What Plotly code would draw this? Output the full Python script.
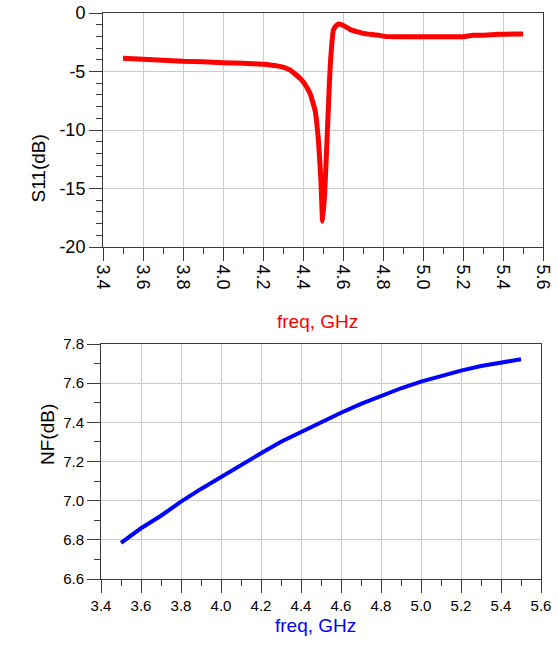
import plotly.graph_objects as go

# S11 data (freq GHz, dB)
s11_freq = [3.5, 3.6, 3.7, 3.8, 3.9, 4.0, 4.1, 4.2, 4.235, 4.3, 4.335, 4.385, 4.41, 4.435,
            4.46, 4.477, 4.49, 4.498, 4.508, 4.518, 4.532, 4.538, 4.552, 4.565, 4.58,
            4.6, 4.635, 4.67, 4.70, 4.77, 4.82, 4.9, 5.0, 5.1, 5.2, 5.25, 5.3, 5.385, 5.45, 5.5]
s11_db = [-3.87, -3.96, -4.03, -4.13, -4.17, -4.25, -4.30, -4.39, -4.44, -4.62, -4.87, -5.58, -6.1, -6.87,
          -8.29, -10.85, -14.5, -17.8, -15.5, -11.7, -6.0, -4.0, -1.45, -1.1, -0.94,
          -1.05, -1.4, -1.6, -1.74, -1.88, -2.02, -2.03, -2.02, -2.02, -2.02, -1.91, -1.9, -1.82, -1.8, -1.79]

# NF data (freq GHz, dB)
nf_freq = [3.5, 3.6, 3.7, 3.8, 3.9, 4.0, 4.1, 4.2, 4.3, 4.4, 4.5, 4.6, 4.7, 4.8, 4.9,
           5.0, 5.1, 5.2, 5.3, 5.4, 5.5]
nf_db = [6.785, 6.859, 6.923, 6.995, 7.06, 7.122, 7.182, 7.242, 7.301, 7.352, 7.403, 7.449,
         7.494, 7.535, 7.574, 7.608, 7.638, 7.664, 7.688, 7.707, 7.722]

x_ticks = [3.4, 3.6, 3.8, 4.0, 4.2, 4.4, 4.6, 4.8, 5.0, 5.2, 5.4, 5.6]
x_ticktext = ["%.1f" % v for v in x_ticks]
s11_ticks = [0, -5, -10, -15, -20]
s11_ticktext = ["0", "-5", "-10", "-15", "-20"]
nf_ticks = [6.6, 6.8, 7.0, 7.2, 7.4, 7.6, 7.8]
nf_ticktext = ["%.1f" % v for v in nf_ticks]

FONT = "Liberation Sans, Arial, sans-serif"
W, H = 559, 650
AX = "#3a3a3a"
GRID = "#cccccc"

fig = go.Figure()
fig.add_trace(go.Scatter(x=s11_freq, y=s11_db, mode="lines",
                         line=dict(color="#ff0000", width=5, shape="spline", smoothing=0.4),
                         xaxis="x", yaxis="y", showlegend=False))
fig.add_trace(go.Scatter(x=nf_freq, y=nf_db, mode="lines",
                         line=dict(color="#0000ff", width=4),
                         xaxis="x2", yaxis="y2", showlegend=False))

common = dict(showline=True, linecolor=AX, linewidth=1, mirror=True,
              showgrid=True, gridcolor=GRID, gridwidth=1, zeroline=False,
              ticks="outside", tickcolor=AX, ticklen=13, tickwidth=1,
              automargin=False)

fig.update_layout(
    width=W, height=H, autosize=False,
    margin=dict(l=0, r=0, t=0, b=0, pad=0, autoexpand=False),
    paper_bgcolor="white", plot_bgcolor="white",
    font=dict(family=FONT, color="#000000"),
    xaxis=dict(domain=[103 / W, 543 / W], range=[3.4, 5.6], anchor="y",
               tickvals=x_ticks, ticktext=x_ticktext, tickangle=90,
               tickfont=dict(size=18),
               minor=dict(dtick=0.1, tick0=3.4, ticks="outside", ticklen=6, tickcolor=AX, showgrid=False),
               **common),
    yaxis=dict(domain=[1 - 247 / H, 1 - 13 / H], range=[-20, 0], anchor="x",
               tickvals=s11_ticks, ticktext=s11_ticktext, tickfont=dict(size=18),
               minor=dict(dtick=1, tick0=0, ticks="outside", ticklen=6, tickcolor=AX, showgrid=False),
               **common),
    xaxis2=dict(domain=[101 / W, 541 / W], range=[3.4, 5.6], anchor="y2",
                tickvals=x_ticks, ticktext=x_ticktext, tickangle=0,
                tickfont=dict(size=15),
                minor=dict(dtick=0.1, tick0=3.4, ticks="outside", ticklen=6, tickcolor=AX, showgrid=False),
                **common),
    yaxis2=dict(domain=[1 - 579 / H, 1 - 344 / H], range=[6.6, 7.8], anchor="x2",
                tickvals=nf_ticks, ticktext=nf_ticktext,
                tickfont=dict(size=15),
                minor=dict(dtick=0.1, tick0=6.6, ticks="outside", ticklen=6, tickcolor=AX, showgrid=False),
                **common),
    annotations=[
        dict(text="S11(dB)", x=25 / W, y=1 - 133 / H, xref="paper", yref="paper",
             showarrow=False, textangle=-90, font=dict(size=19, color="#000000")),
        dict(text="freq, GHz", x=317 / W, y=1 - 322 / H, xref="paper", yref="paper",
             showarrow=False, font=dict(size=19, color="#ff0000")),
        dict(text="NF(dB)", x=35 / W, y=1 - 467 / H, xref="paper", yref="paper",
             showarrow=False, textangle=-90, font=dict(size=19, color="#000000")),
        dict(text="freq, GHz", x=315 / W, y=1 - 638 / H, xref="paper", yref="paper",
             showarrow=False, font=dict(size=19, color="#0000ff")),
    ],
)

fig.write_html("out.html")
